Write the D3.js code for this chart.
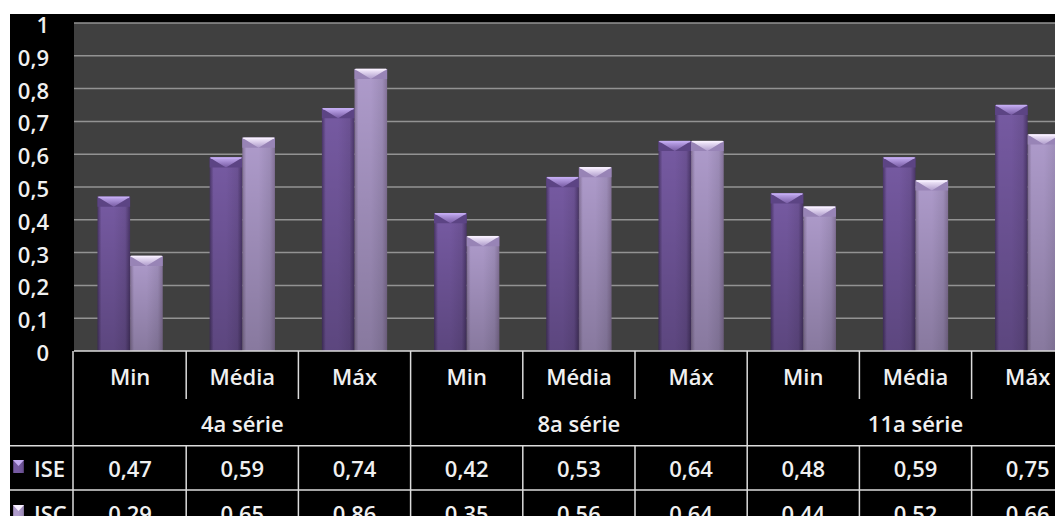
<!DOCTYPE html>
<html>
<head>
<meta charset="utf-8">
<script src="https://cdn.jsdelivr.net/npm/d3@7"></script>
<style>
  body { margin: 0; background: #fff; }
  svg text { font-family: "Open Sans", sans-serif; font-weight: 600; fill: #f0f0f0; }
</style>
</head>
<body>
<div id="chart"></div>
<script>
const grades = ["4a série", "8a série", "11a série"];
const stats  = ["Min", "Média", "Máx"];
const series = ["ISE", "ISC"];
const iseValues = [0.47, 0.59, 0.74, 0.42, 0.53, 0.64, 0.48, 0.59, 0.75];
const iscValues = [0.29, 0.65, 0.86, 0.35, 0.56, 0.64, 0.44, 0.52, 0.66];
const yTicks = [0, 0.1, 0.2, 0.3, 0.4, 0.5, 0.6, 0.7, 0.8, 0.9, 1];

const W = 1055, H = 516;
const dim = {frameLeft: 10, frameTop: 14, plotLeft: 74, plotTop: 23, plotBottom: 351, step: 112.2,
             rowCat: 399, rowGrade: 445.7, rowIse: 490};
const fontSize = 22;

const locale = d3.formatLocale({decimal: ",", thousands: ".", grouping: [3], currency: ["", ""]});
const fmtTick = locale.format(".1~f");
const fmtVal  = locale.format(".2f");

const cats = grades.flatMap(g => stats.map(s => ({grade: g, stat: s})));
cats.forEach((c, i) => { c.ISE = iseValues[i]; c.ISC = iscValues[i]; c.i = i; });

const x = d3.scaleBand(d3.range(cats.length), [dim.plotLeft, dim.plotLeft + dim.step * cats.length]);
const xs = d3.scaleBand(series, [0, x.bandwidth()]).paddingOuter(0.72).paddingInner(0);
const y = d3.scaleLinear([0, 1], [dim.plotBottom, dim.plotTop]);

const svg = d3.select("#chart").append("svg").attr("width", W).attr("height", H);
const defs = svg.append("defs");

const palette = {
  ISE: {edge: "#4a3668", mid: "#765aa2", top: "#c4acf2", topSide: "#5c4484"},
  ISC: {edge: "#857399", mid: "#ae9bcb", top: "#f8f0ff", topSide: "#9884b6"}
};
for (const s of series) {
  const p = palette[s];
  const gr = defs.append("linearGradient").attr("id", "h" + s).attr("x1", 0).attr("x2", 1);
  [[0, p.edge], [0.12, p.mid], [0.5, p.mid], [0.85, d3.color(p.mid).darker(0.25)], [1, p.edge]]
    .forEach(([o, c]) => gr.append("stop").attr("offset", o).attr("stop-color", c));
  const tg = defs.append("linearGradient").attr("id", "t" + s).attr("x1", 0).attr("x2", 0).attr("y1", 0).attr("y2", 1);
  tg.append("stop").attr("offset", 0).attr("stop-color", p.top);
  tg.append("stop").attr("offset", 1).attr("stop-color", p.mid);
}
const vg = defs.append("linearGradient").attr("id", "shade").attr("x1", 0).attr("x2", 0).attr("y1", 0).attr("y2", 1);
vg.append("stop").attr("offset", 0).attr("stop-color", "#000").attr("stop-opacity", 0);
vg.append("stop").attr("offset", 1).attr("stop-color", "#000").attr("stop-opacity", 0.22);

// frame
svg.append("rect").attr("x", dim.frameLeft).attr("y", dim.frameTop)
  .attr("width", W - dim.frameLeft).attr("height", H - dim.frameTop).attr("fill", "#000");
svg.append("rect").attr("x", dim.plotLeft).attr("y", dim.plotTop)
  .attr("width", W - dim.plotLeft).attr("height", dim.plotBottom - dim.plotTop).attr("fill", "#404040");

// gridlines
svg.append("g").selectAll("line").data(yTicks.filter(d => d > 0)).join("line")
  .attr("x1", dim.plotLeft).attr("x2", W)
  .attr("y1", d => y(d)).attr("y2", d => y(d))
  .attr("stroke", "#939393").attr("stroke-width", 1.5);

// y labels
svg.append("g").selectAll("text").data(yTicks).join("text")
  .attr("x", 49).attr("y", d => y(d) + 1)
  .attr("text-anchor", "end").attr("dominant-baseline", "central")
  .attr("font-size", fontSize).text(d => fmtTick(d));

// bars
const barG = svg.append("g");
for (const s of series) {
  const bars = barG.selectAll("g.bar-" + s).data(cats).join("g").attr("class", "bar-" + s)
    .attr("transform", d => `translate(${x(d.i) + xs(s)} 0)`);
  const bw = xs.bandwidth();
  bars.append("rect").attr("x", 0).attr("y", d => y(d[s]))
    .attr("width", bw).attr("height", d => y(0) - y(d[s]))
    .attr("fill", `url(#h${s})`);
  bars.append("rect").attr("x", 0).attr("y", d => y(d[s]))
    .attr("width", bw).attr("height", d => y(0) - y(d[s]))
    .attr("fill", "url(#shade)");
  bars.append("path")
    .attr("d", d => `M0,${y(d[s])}H${bw}V${y(d[s]) + 10}H0Z`)
    .attr("fill", palette[s].topSide);
  bars.append("path")
    .attr("d", d => `M0,${y(d[s])}H${bw}L${bw / 2},${y(d[s]) + 10}Z`)
    .attr("fill", `url(#t${s})`);
  bars.append("line").attr("x1", 1).attr("x2", bw - 1)
    .attr("y1", d => y(d[s]) + 0.5).attr("y2", d => y(d[s]) + 0.5)
    .attr("stroke", palette[s].top).attr("stroke-width", 1.5);
}

// data table
const table = svg.append("g");
const lineColor = "#dcdcdc";
const hline = (x1, yy) => table.append("line").attr("x1", x1).attr("x2", W)
  .attr("y1", yy).attr("y2", yy).attr("stroke", lineColor).attr("stroke-width", 1.5);
hline(dim.plotLeft, dim.plotBottom);
hline(dim.frameLeft, dim.rowGrade);
hline(dim.frameLeft, dim.rowIse);
table.append("line").attr("x1", 73).attr("x2", 73).attr("y1", dim.plotBottom).attr("y2", H)
  .attr("stroke", lineColor).attr("stroke-width", 1.5);

table.selectAll("line.div").data(cats.slice(1)).join("line").attr("class", "div")
  .attr("x1", d => x(d.i)).attr("x2", d => x(d.i))
  .attr("y1", dim.plotBottom)
  .attr("y2", d => d.i % stats.length === 0 ? H : dim.rowCat)
  .attr("stroke", lineColor).attr("stroke-width", 1.5);
table.selectAll("line.div2").data(cats.slice(1).filter(d => d.i % stats.length !== 0)).join("line").attr("class", "div2")
  .attr("x1", d => x(d.i)).attr("x2", d => x(d.i))
  .attr("y1", dim.rowGrade).attr("y2", H)
  .attr("stroke", lineColor).attr("stroke-width", 1.5);

const mid = d => x(d.i) + x.bandwidth() / 2;
table.selectAll("text.cat").data(cats).join("text").attr("class", "cat")
  .attr("x", mid).attr("y", 376).attr("text-anchor", "middle").attr("dominant-baseline", "central")
  .attr("font-size", fontSize).text(d => d.stat);
table.selectAll("text.grade").data(grades).join("text").attr("class", "grade")
  .attr("x", (g, i) => x(i * stats.length) + x.step() * stats.length / 2)
  .attr("y", 423).attr("text-anchor", "middle").attr("dominant-baseline", "central")
  .attr("font-size", fontSize).text(d => d);

const rowY = {ISE: 468, ISC: 513};
for (const s of series) {
  table.selectAll("text.v" + s).data(cats).join("text").attr("class", "v" + s)
    .attr("x", mid).attr("y", rowY[s]).attr("text-anchor", "middle").attr("dominant-baseline", "central")
    .attr("font-size", fontSize).text(d => fmtVal(d[s]));
  table.append("rect").attr("x", 13).attr("y", rowY[s] - 8).attr("width", 11).attr("height", 13)
    .attr("fill", `url(#h${s})`);
  table.append("path")
    .attr("d", `M13,${rowY[s] - 8}H24L18.5,${rowY[s] - 2}Z`).attr("fill", palette[s].top);
  table.append("text").attr("x", 34).attr("y", rowY[s]).attr("dominant-baseline", "central")
    .attr("font-size", fontSize).text(s);
}
</script>
</body>
</html>
